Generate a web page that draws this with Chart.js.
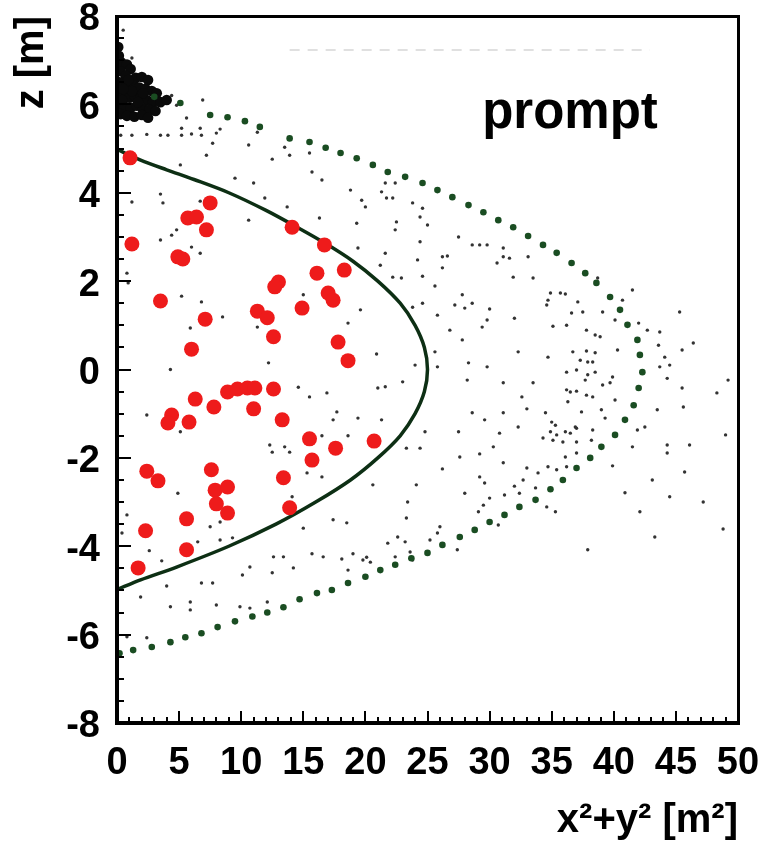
<!DOCTYPE html>
<html><head><meta charset="utf-8">
<script src="https://cdn.jsdelivr.net/npm/chart.js@4.4.1/dist/chart.umd.min.js"></script>
<style>html,body{margin:0;padding:0;background:#fff;}#wrap{width:762px;height:851px;}</style>
</head><body><div id="wrap"><canvas id="c" width="762" height="851"></canvas></div>
<script>
// ---- tick values ----
const xTickValues = [0,5,10,15,20,25,30,35,40,45,50];
const zTickValues = [-8,-6,-4,-2,0,2,4,6,8];
const xTitle = 'x\u00b2+y\u00b2 [m\u00b2]';
const zTitle = 'z [m]';
const labelText = 'prompt';
const labelPos = [29.4, 5.46];

// ---- red dots (x^2+y^2, z) ----
const redDots = [
[1.05,4.79],[7.5,3.77],[5.7,3.43],[6.4,3.45],[7.2,3.16],[1.2,2.84],[4.9,2.55],[5.3,2.5],[14.1,3.22],[16.7,2.82],
[18.3,2.25],[16.1,2.18],[13.0,1.98],[12.7,1.87],[17.0,1.73],[17.4,1.57],[3.5,1.55],[14.9,1.39],[11.3,1.32],[12.1,1.17],
[7.1,1.14],[12.6,0.74],[17.8,0.62],[18.6,0.2],[6.0,0.46],
[8.9,-0.51],[9.7,-0.44],[10.5,-0.42],[11.1,-0.42],[12.6,-0.44],[6.3,-0.67],[7.8,-0.85],[11.0,-0.89],[4.4,-1.03],[4.1,-1.21],
[5.8,-1.19],[13.3,-1.14],[15.5,-1.57],[17.6,-1.78],[20.7,-1.62],[15.7,-2.05],[2.4,-2.3],[3.3,-2.52],[7.6,-2.27],[13.4,-2.45],
[7.9,-2.73],[8.9,-2.66],[8.0,-3.04],[8.9,-3.25],[13.9,-3.13],[5.6,-3.38],[2.3,-3.65],[5.6,-4.08],[1.7,-4.49]
];

// ---- solid boundary curve ----
const solidCurve = [
[0.0,4.98],[1.9,4.74],[4.0,4.52],[6.2,4.3],[9.0,4.0],[12.0,3.6],[14.5,3.22],[16.8,2.85],[19.0,2.45],[21.0,2.0],
[22.8,1.5],[24.0,1.0],[24.75,0.5],[25.0,0.0],[24.75,-0.5],[24.0,-1.0],[22.8,-1.5],[21.0,-2.0],[18.8,-2.5],[16.0,-3.0],
[12.8,-3.5],[9.0,-4.0],[4.8,-4.47],[1.9,-4.76],[0.0,-4.98]
];

// ---- dotted boundary curve (individual dots) ----
const dottedCurve = [
[3.0,6.17],[5.1,6.03],[7.5,5.76],[8.9,5.71],[10.3,5.62],[11.5,5.49],[13.9,5.23],[15.5,5.15],[16.8,5.02],[18.0,4.9],
[19.3,4.78],[20.6,4.63],[21.8,4.47],[23.2,4.36],[24.6,4.22],[25.8,4.06],[27.0,3.9],[28.3,3.72],[29.5,3.56],[30.7,3.38],
[31.9,3.22],[33.1,3.02],[34.3,2.82],[35.4,2.64],[36.6,2.41],[37.7,2.18],[38.6,1.96],[39.7,1.64],[40.5,1.35],[41.1,1.01],
[41.9,0.67],[42.1,0.33],[42.3,-0.06],[42.0,-0.42],[41.6,-0.81],[40.9,-1.14],[40.1,-1.48],[39.0,-1.75],[38.1,-2.0],[37.0,-2.23],
[35.9,-2.5],[34.9,-2.71],[33.7,-2.95],[32.4,-3.11],[31.2,-3.29],[30.0,-3.45],[28.8,-3.63],[27.6,-3.79],[26.2,-3.97],[25.0,-4.15],
[23.7,-4.27],[22.4,-4.42],[21.2,-4.54],[20.0,-4.69],[18.6,-4.83],[17.3,-4.99],[16.1,-5.06],[14.7,-5.2],[13.4,-5.38],[12.1,-5.5],
[10.9,-5.59],[9.5,-5.7],[8.1,-5.83],[6.8,-5.97],[5.5,-6.06],[4.3,-6.17],[2.8,-6.28],[1.3,-6.35],[0.2,-6.42]
];

// ---- dense cluster near the top-left ----
const clusterDots = [
[0.1,7.3],[0.15,7.1],[0.35,6.95],[0.8,6.9],[1.1,6.8],[0.3,6.75],[0.7,6.65],[1.5,6.6],[2.0,6.62],[2.5,6.55],
[0.2,6.5],[0.6,6.45],[1.0,6.4],[1.4,6.42],[1.8,6.38],[2.3,6.35],[2.8,6.3],[3.2,6.25],
[0.2,6.25],[0.6,6.2],[1.0,6.15],[1.4,6.2],[1.9,6.15],[2.4,6.1],[2.9,6.05],[3.5,6.05],[4.0,6.1],
[0.2,6.0],[0.6,5.95],[1.1,5.92],[1.6,5.97],[2.1,5.9],[2.6,5.88],[3.1,5.85],
[0.3,5.78],[0.8,5.74],[1.4,5.72],[2.0,5.76],[2.5,5.7],
[0.4,6.1],[1.2,6.3],[2.1,6.25],[1.7,6.05],[0.9,6.55],[0.5,6.35]
];

// ---- sparse small dots ----
const smallDots = [
[0.5,7.68],[1.2,7.05],[4.4,6.2],[4.8,5.98],
[0.3,5.3],[1.2,5.3],[2.4,5.32],[3.5,5.3],[4.1,5.3],[5.2,5.3],[6.0,5.33],[6.8,5.3],[8.0,5.35],[11.3,5.37],
[5.2,5.46],[6.7,5.46],[8.3,5.44],[5.6,5.69],[6.9,6.1],
[7.7,5.12],[10.6,5.08],[13.5,5.03],[13.9,4.85],[15.5,4.9],[15.7,4.47],[7.2,4.85],[12.5,4.76],[5.1,4.63],
[9.5,4.33],[11.0,4.22],[16.5,4.29],[11.9,3.88],[18.8,4.06],[19.7,3.83],[20.0,3.68],[21.3,4.02],[21.7,3.88],
[3.5,3.97],[3.7,3.77],[1.2,3.79],[6.7,3.81],[13.7,3.68],[16.3,3.43],[10.6,3.38],[19.3,3.31],
[4.8,3.16],[4.4,3.04],[3.5,2.93],[6.0,2.77],[6.7,2.63],[19.4,2.75],[21.6,2.63],[21.2,2.36],
[0.8,2.18],[0.9,1.96],[5.2,1.66],[6.8,1.53],[15.0,1.69],[19.6,1.35],[8.5,1.19],[18.6,1.05],[11.3,0.96],[5.9,0.94],[20.9,0.35],
[21.6,4.22],[22.4,4.22],[22.2,3.88],[23.8,3.77],[24.6,3.65],[24.4,3.45],[25.0,3.27],[22.5,3.34],[22.4,3.16],[27.5,3.0],
[24.4,2.89],[28.6,2.82],[29.2,2.82],[29.8,2.82],[31.1,2.75],[31.1,2.55],[31.6,2.52],[26.2,2.55],[26.6,2.57],[24.2,2.48],
[33.1,2.55],[26.2,2.3],[30.6,2.41],[31.9,2.09],[33.5,2.07],[22.2,2.09],[22.9,2.07],[24.6,2.11],[25.6,1.89],[27.8,1.69],
[34.9,1.73],[35.7,1.73],[41.5,1.8],[28.6,1.5],[27.2,1.46],[28.0,1.39],[23.8,1.41],[24.6,1.5],[30.0,1.37],[34.7,1.57],
[34.6,1.46],[36.1,1.71],[25.8,1.23],[32.0,1.16],[29.8,1.12],[36.6,1.28],[29.4,0.96],[26.8,0.89],[35.1,0.98],[27.8,0.67],
[32.3,0.4],[25.6,0.4],[34.7,0.28],[28.3,0.15],[29.8,0.06],
[38.7,2.07],[37.1,1.53],[37.5,1.3],[39.1,1.3],[40.7,1.57],[40.1,1.12],[42.0,1.05],[45.3,1.3],[37.8,0.89],[38.5,0.78],
[38.9,0.74],[36.2,1.0],[42.7,0.89],[43.7,0.85],[43.6,0.55],[46.4,0.6],[45.5,0.44],[40.3,0.44],[36.7,0.4],[37.8,0.42],
[38.5,0.38],[37.3,0.21],[38.3,0.17],[44.1,0.28],[43.7,0.06],[44.5,0.1],
[24.0,0.1],[25.8,0.06],[28.2,-0.24],[36.2,-0.06],[37.0,-0.01],[37.9,0.17],[38.5,-0.06],
[4.3,0.0],[12.2,0.15],[14.6,-0.4],[15.5,-0.62],[16.9,-0.53],[21.0,-0.42],[2.4,-1.03],[5.1,-1.41],[17.7,-0.96],[17.4,-1.14],
[19.4,-1.1],[21.3,-1.14],[18.6,-1.5],[12.3,-1.71],[13.5,-1.75],[13.9,-1.87],[12.5,-1.87],[16.5,-1.5],[15.3,-2.34],[16.5,-2.43],
[20.6,-2.61],[4.9,-2.8],[14.1,-2.88],[0.8,-3.29],[17.4,-3.4],[18.5,-3.47],[7.5,-3.56],[8.3,-3.45],[15.0,-3.59],[0.4,-3.7],
[6.5,-3.9],[8.3,-3.86],[9.3,-3.81],[2.6,-4.1],[3.6,-4.33],[12.6,-4.24],[13.4,-4.24],[15.7,-4.17],[16.6,-4.24],[18.1,-4.29],
[19.0,-4.17],[19.8,-4.31],[20.4,-4.36],[20.1,-4.25],[10.7,-4.47],[10.1,-4.65],[12.5,-4.6],[14.2,-4.49],[18.6,-4.54],[4.0,-4.9],
[6.8,-4.83],[7.7,-4.83],[1.9,-5.15],
[2.4,-6.07],[0.8,-6.05],[4.3,-5.37],[5.9,-5.26],[5.9,-5.44],[8.0,-5.33],[9.9,-5.37],[10.7,-5.4],[12.1,-5.26],
[21.6,-0.39],[23.0,-0.28],[31.1,-0.3],[33.5,-0.3],[36.5,-0.51],[37.0,-0.49],[32.6,-0.62],[33.0,-0.89],[28.6,-0.98],[29.6,-1.14],
[31.1,-0.98],[34.5,-0.98],[35.0,-1.19],[35.3,-1.26],[34.9,-1.41],[35.4,-1.48],[36.1,-1.41],[36.5,-1.44],[34.3,-1.55],[35.1,-1.6],
[35.9,-1.64],[37.0,-1.33],[24.8,-1.41],[23.3,-1.78],[24.4,-1.78],[27.5,-1.41],[30.8,-1.44],[32.3,-1.3],[30.3,-1.75],[27.6,-1.98],
[29.2,-1.91],[31.1,-2.11],[36.1,-1.98],[37.0,-1.89],[26.2,-2.25],[33.0,-2.23],[33.9,-2.34],[34.7,-2.2],[35.4,-2.27],
[29.2,-2.43],[29.6,-2.57],[32.0,-2.64],[33.7,-2.68],[32.7,-2.5],[24.1,-2.61],[28.0,-2.8],[30.0,-2.91],[31.2,-2.84],[32.4,-2.8],
[23.4,-3.0],[29.5,-3.07],[29.1,-3.22],[34.6,-3.11],[35.3,-3.22],[23.3,-3.36],[26.0,-3.56],[25.8,-3.7],[25.2,-3.86],[30.7,-3.52],
[21.8,-3.93],[22.6,-3.79],[23.2,-3.9],[23.6,-4.13],[22.4,-4.24],[23.8,-4.31],[27.4,-4.08],
[37.9,-0.12],[39.9,-0.17],[37.7,-0.24],[39.1,-0.35],[39.7,-0.3],[36.2,-0.46],[37.8,-0.58],[38.3,-0.62],[36.3,-0.73],
[44.3,-0.2],[45.5,-0.42],[48.3,-0.53],[49.2,-0.24],[40.1,-0.69],[37.4,-0.96],[39.0,-0.91],[39.3,-1.1],[43.5,-0.91],[45.6,-0.85],
[41.9,-1.37],[42.5,-1.3],[38.3,-1.37],[36.9,-1.3],[37.0,-1.64],[38.2,-1.6],
[41.5,-1.75],[44.3,-1.71],[44.3,-1.89],[46.1,-1.71],[49.0,-1.48],[36.2,-2.2],[39.9,-2.18],[45.7,-2.32],[43.1,-2.5],[40.9,-2.79],
[44.5,-2.88],[47.2,-3.0],[42.1,-3.22],[48.8,-3.61],[43.3,-3.79],[37.9,-4.08]
];

// faint residual dashes near the top
const faintLine = [[13.9,7.23],[42.9,7.23]];

const pts = a => a.map(([x,z]) => ({x:x, y:z}));
const FONT = '"Liberation Sans", Arial, Helvetica, sans-serif';

const framePlugin = {
  id: 'axisFrame',
  afterDraw(chart) {
    const ctx = chart.ctx;
    const a = chart.chartArea;
    const xs = chart.scales.x, ys = chart.scales.y;
    ctx.save();
    ctx.fillStyle = '#000';
    ctx.font = 'bold 51px ' + FONT;
    ctx.textAlign = 'left';
    ctx.textBaseline = 'alphabetic';
    ctx.fillText(labelText, xs.getPixelForValue(labelPos[0]), ys.getPixelForValue(labelPos[1]));
    const L = Math.round(a.left), R = Math.round(a.right), T = Math.round(a.top), B = Math.round(a.bottom);
    // ticks (inward)
    for (let v = 0; v <= 50; v += 1) {
      const px = Math.round(xs.getPixelForValue(v));
      const len = (v % 5 === 0) ? 12 : 6;
      ctx.fillRect(px - 1, B - len, 2, len);
    }
    for (let k = -16; k <= 16; k += 1) {
      const py = Math.round(ys.getPixelForValue(k / 2));
      const len = (k % 4 === 0) ? 14 : 7;
      ctx.fillRect(L, py - 1, len, 2);
    }
    // frame
    ctx.fillRect(L - 2, T - 1, R - L + 3, 3);
    ctx.fillRect(R - 1, T - 1, 3, B - T + 2);
    ctx.fillRect(L - 2, T - 1, 4, B - T + 3);
    ctx.fillRect(L - 2, B - 2, R - L + 4, 4);
    ctx.restore();
  }
};

new Chart(document.getElementById('c'), {
  type: 'scatter',
  data: {
    datasets: [
      {label:'red', data: pts(redDots), pointRadius: 7.5, pointHoverRadius: 7.5, backgroundColor: '#ee1b1b', borderWidth: 0, order: 0},
      {label:'solid', data: pts(solidCurve), showLine: true, borderColor: '#0d2f14', backgroundColor: '#0d2f14', borderWidth: 3.5, pointRadius: 0, tension: 0.3, fill: false, order: 1},
      {label:'dotted', data: pts(dottedCurve), pointRadius: 3.3, backgroundColor: '#1a4d22', borderWidth: 0, order: 2},
      {label:'cluster', data: pts(clusterDots), pointRadius: 5.3, backgroundColor: '#0a0a0a', borderWidth: 0, order: 3},
      {label:'small', data: pts(smallDots), pointRadius: 1.7, backgroundColor: '#333333', borderWidth: 0, order: 4},
      {label:'faint', data: pts(faintLine), showLine: true, borderColor: '#e0e0e0', borderWidth: 2, borderDash: [10, 8], pointRadius: 0, order: 5}
    ]
  },
  options: {
    responsive: false,
    animation: false,
    devicePixelRatio: 1,
    layout: {padding: {top: 16, right: 24, left: 0, bottom: 0}},
    plugins: {legend: {display: false}, tooltip: {enabled: false}},
    scales: {
      x: {
        type: 'linear', min: 0, max: 50,
        afterBuildTicks: s => { s.ticks = xTickValues.map(v => ({value: v})); },
        afterFit: s => { s.height = 128; s.paddingLeft = 0; s.paddingRight = 0; },
        grid: {display: false, drawTicks: false, tickLength: 0},
        border: {display: false},
        ticks: {autoSkip: false, maxRotation: 0, padding: 22, color: '#000', font: {family: FONT, size: 38, weight: 'bold', lineHeight: 1}},
        title: {display: true, text: xTitle, align: 'end', color: '#000', padding: {top: 0, bottom: 6}, font: {family: FONT, size: 40, weight: 'bold'}}
      },
      y: {
        type: 'linear', min: -8, max: 8,
        afterBuildTicks: s => { s.ticks = zTickValues.map(v => ({value: v})); },
        afterFit: s => { s.width = 117; s.paddingTop = 0; s.paddingBottom = 0; },
        grid: {display: false, drawTicks: false, tickLength: 0},
        border: {display: false},
        ticks: {autoSkip: false, padding: 17, labelOffset: 4, color: '#000', font: {family: FONT, size: 38, weight: 'bold', lineHeight: 0.8}},
        title: {display: true, text: zTitle, align: 'end', color: '#000', padding: {top: 8, bottom: 0}, font: {family: FONT, size: 40, weight: 'bold'}}
      }
    }
  },
  plugins: [framePlugin]
});
</script></body></html>
